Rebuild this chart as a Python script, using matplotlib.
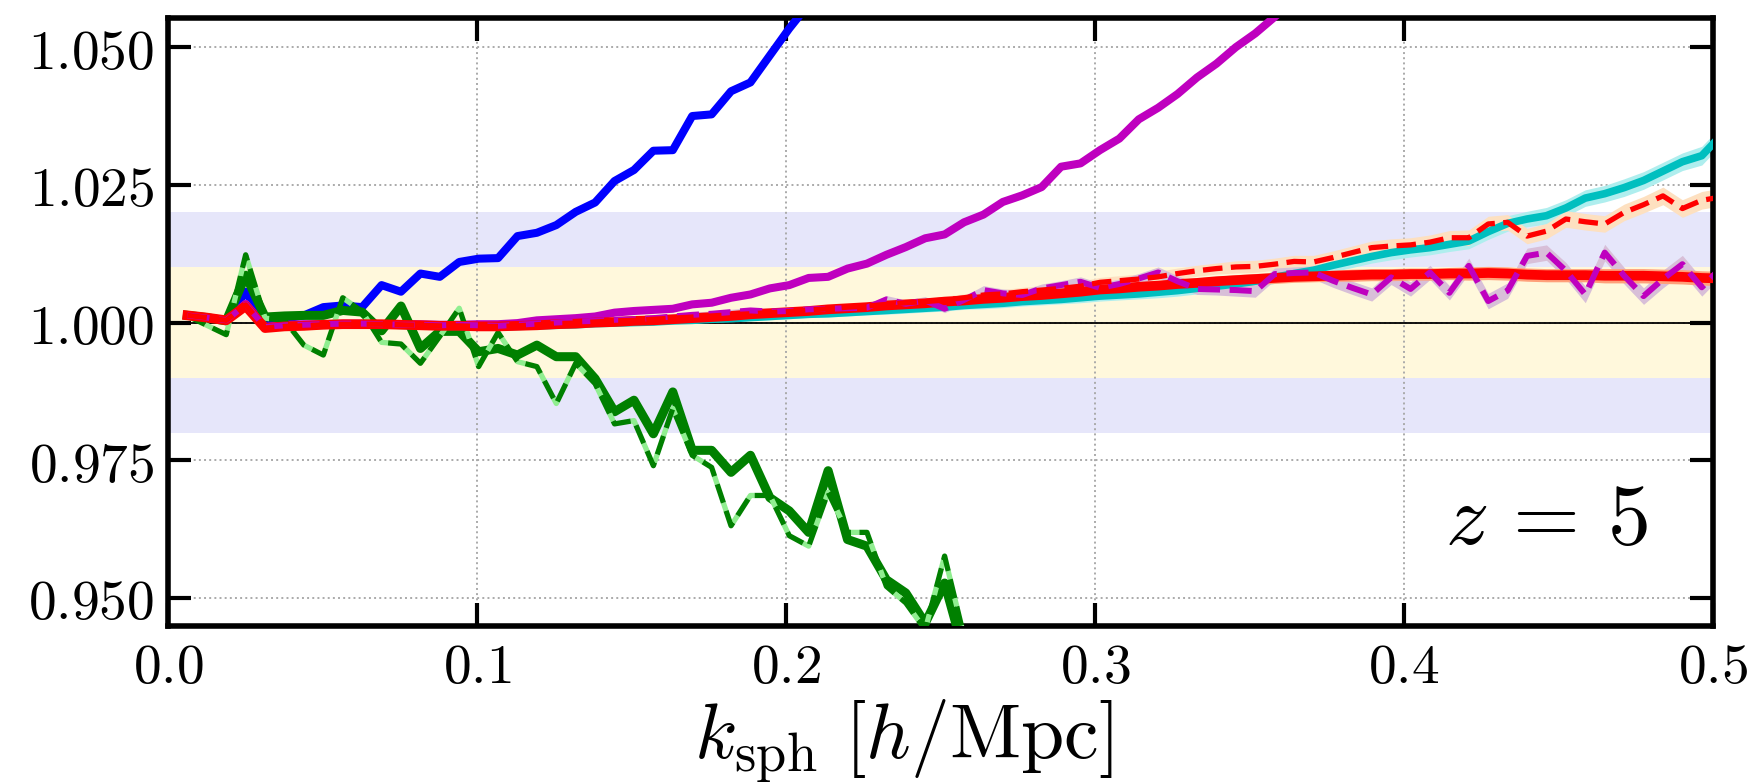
import numpy as np
import matplotlib
matplotlib.use("Agg")
import matplotlib.pyplot as plt
from matplotlib.ticker import FormatStrFormatter

plt.rcParams['mathtext.fontset'] = 'cm'
plt.rcParams['font.family'] = ['DejaVu Serif']

# bin centres k_n = n * 2pi/1000  (h/Mpc)
k = np.arange(1, 81) * 2 * np.pi / 1000.0

blue = [1.0013, 1.0009, 1.0004, 1.0056, 0.9998, 1.0007, 1.0013, 1.0028, 1.0031, 1.0028,
        1.0068, 1.0056, 1.0089, 1.0083, 1.0110, 1.0116, 1.0117, 1.0157, 1.0163, 1.0177,
        1.0201, 1.0218, 1.0257, 1.0277, 1.0312, 1.0313, 1.0375, 1.0378, 1.0420, 1.0436,
        1.0485, 1.0534, 1.0578, 1.0610]

magenta = [1.0013, 1.0009, 1.0004, 1.0034, 0.9992, 0.9996, 0.9997, 0.9997, 0.9998, 0.9998,
           0.9997, 0.9997, 0.9997, 0.9996, 0.9996, 0.9997, 0.9997, 0.9999, 1.0004, 1.0006,
           1.0008, 1.0011, 1.0018, 1.0021, 1.0023, 1.0025, 1.0033, 1.0036, 1.0045, 1.0051,
           1.0062, 1.0068, 1.0081, 1.0083, 1.0098, 1.0107, 1.0123, 1.0137, 1.0153, 1.0160,
           1.0182, 1.0196, 1.0219, 1.0231, 1.0246, 1.0283, 1.0289, 1.0313, 1.0334, 1.0369,
           1.0390, 1.0415, 1.0445, 1.0470, 1.0500, 1.0525, 1.0555, 1.0585]

green = [1.0013, 1.0009, 1.0003, 1.0086, 1.0010, 1.0012, 1.0013, 1.0013, 1.0022, 1.0019,
         0.9985, 1.0030, 0.9953, 0.9984, 0.9984, 0.9947, 0.9953, 0.9941, 0.9959, 0.9938,
         0.9938, 0.9898, 0.9838, 0.9859, 0.9798, 0.9874, 0.9768, 0.9768, 0.9728, 0.9759,
         0.9682, 0.9658, 0.9619, 0.9731, 0.9606, 0.9594, 0.9533, 0.9509, 0.9454, 0.9527,
         0.9400, 0.9340]

green_dash = [1.0012, 0.9995, 0.9978, 1.0123, 1.0008, 1.0004, 0.9959, 0.9941, 1.0045, 1.0020,
              0.9964, 0.9961, 0.9926, 0.9975, 1.0026, 0.9920, 0.9982, 0.9929, 0.9920, 0.9853,
              0.9926, 0.9889, 0.9816, 0.9822, 0.9740, 0.9844, 0.9759, 0.9737, 0.9631, 0.9686,
              0.9686, 0.9613, 0.9594, 0.9692, 0.9619, 0.9619, 0.9521, 0.9491, 0.9442, 0.9576,
              0.9430, 0.9350]

red = [1.0013, 1.0009, 1.0004, 1.0030, 0.9990, 0.9993, 0.9994, 0.9996, 0.9997, 0.9997,
       0.9997, 0.9996, 0.9995, 0.9994, 0.9994, 0.9993, 0.9993, 0.9994, 0.9995, 0.9997,
       0.9998, 1.0000, 1.0001, 1.0003, 1.0004, 1.0006, 1.0008, 1.0010, 1.0012, 1.0015,
       1.0017, 1.0019, 1.0021, 1.0024, 1.0026, 1.0028, 1.0031, 1.0033, 1.0035, 1.0038,
       1.0040, 1.0043, 1.0045, 1.0048, 1.0050, 1.0053, 1.0056, 1.0060, 1.0062, 1.0065,
       1.0067, 1.0070, 1.0072, 1.0075, 1.0077, 1.0079, 1.0081, 1.0083, 1.0084, 1.0085,
       1.0086, 1.0087, 1.0087, 1.0088, 1.0088, 1.0089, 1.0089, 1.0090, 1.0089, 1.0087,
       1.0086, 1.0086, 1.0086, 1.0085, 1.0085, 1.0085, 1.0084, 1.0083, 1.0081, 1.0080]
red_err = [0.0002, 0.0002, 0.0002, 0.0002, 0.0002, 0.0002, 0.0002, 0.0002, 0.0002, 0.0003,
           0.0003, 0.0003, 0.0003, 0.0003, 0.0003, 0.0003, 0.0003, 0.0004, 0.0004, 0.0004,
           0.0004, 0.0004, 0.0004, 0.0004, 0.0005, 0.0005, 0.0005, 0.0005, 0.0005, 0.0005,
           0.0006, 0.0006, 0.0006, 0.0006, 0.0006, 0.0006, 0.0007, 0.0007, 0.0007, 0.0007,
           0.0007, 0.0007, 0.0008, 0.0008, 0.0008, 0.0008, 0.0008, 0.0008, 0.0009, 0.0009,
           0.0009, 0.0009, 0.0009, 0.0009, 0.0010, 0.0010, 0.0010, 0.0010, 0.0010, 0.0010,
           0.0011, 0.0011, 0.0011, 0.0011, 0.0011, 0.0011, 0.0012, 0.0012, 0.0012, 0.0012,
           0.0012, 0.0012, 0.0012, 0.0013, 0.0013, 0.0013, 0.0013, 0.0013, 0.0013, 0.0013]

cyan = [1.0013, 1.0009, 1.0004, 1.0030, 0.9990, 0.9993, 0.9994, 0.9995, 0.9996, 0.9996,
        0.9996, 0.9995, 0.9994, 0.9993, 0.9993, 0.9992, 0.9992, 0.9993, 0.9994, 0.9995,
        0.9996, 0.9998, 0.9999, 1.0000, 1.0001, 1.0003, 1.0004, 1.0006, 1.0007, 1.0009,
        1.0011, 1.0013, 1.0015, 1.0016, 1.0018, 1.0020, 1.0022, 1.0024, 1.0026, 1.0028,
        1.0031, 1.0033, 1.0035, 1.0038, 1.0040, 1.0042, 1.0045, 1.0048, 1.0050, 1.0052,
        1.0055, 1.0058, 1.0062, 1.0066, 1.0070, 1.0075, 1.0082, 1.0089, 1.0095, 1.0104,
        1.0112, 1.0120, 1.0127, 1.0132, 1.0136, 1.0142, 1.0148, 1.0165, 1.0180, 1.0188,
        1.0194, 1.0208, 1.0226, 1.0234, 1.0245, 1.0258, 1.0275, 1.0292, 1.0303, 1.0340]
cyan_err = [0.0002, 0.0002, 0.0002, 0.0002, 0.0002, 0.0002, 0.0002, 0.0002, 0.0002, 0.0003,
            0.0003, 0.0003, 0.0003, 0.0003, 0.0003, 0.0003, 0.0003, 0.0004, 0.0004, 0.0004,
            0.0004, 0.0004, 0.0004, 0.0004, 0.0005, 0.0005, 0.0005, 0.0005, 0.0005, 0.0005,
            0.0006, 0.0006, 0.0006, 0.0006, 0.0006, 0.0006, 0.0007, 0.0007, 0.0007, 0.0007,
            0.0007, 0.0008, 0.0008, 0.0008, 0.0008, 0.0008, 0.0009, 0.0009, 0.0009, 0.0009,
            0.0010, 0.0010, 0.0010, 0.0010, 0.0011, 0.0011, 0.0011, 0.0011, 0.0012, 0.0012,
            0.0012, 0.0012, 0.0013, 0.0013, 0.0013, 0.0013, 0.0014, 0.0014, 0.0014, 0.0014,
            0.0015, 0.0015, 0.0015, 0.0015, 0.0016, 0.0016, 0.0016, 0.0016, 0.0017, 0.0017]

red_dash = [1.0013, 1.0009, 1.0004, 1.0032, 0.9990, 0.9993, 0.9994, 0.9996, 0.9997, 0.9997,
            0.9997, 0.9996, 0.9995, 0.9994, 0.9994, 0.9993, 0.9993, 0.9994, 0.9996, 0.9998,
            0.9999, 1.0001, 1.0003, 1.0004, 1.0006, 1.0008, 1.0010, 1.0012, 1.0014, 1.0016,
            1.0018, 1.0020, 1.0023, 1.0025, 1.0028, 1.0030, 1.0033, 1.0036, 1.0038, 1.0041,
            1.0045, 1.0050, 1.0052, 1.0056, 1.0059, 1.0062, 1.0066, 1.0073, 1.0076, 1.0079,
            1.0083, 1.0089, 1.0094, 1.0098, 1.0101, 1.0102, 1.0106, 1.0111, 1.0110, 1.0118,
            1.0127, 1.0136, 1.0139, 1.0141, 1.0146, 1.0154, 1.0154, 1.0179, 1.0182, 1.0157,
            1.0166, 1.0188, 1.0183, 1.0179, 1.0200, 1.0214, 1.0230, 1.0207, 1.0222, 1.0228]
red_dash_err = [0.0002, 0.0002, 0.0002, 0.0002, 0.0002, 0.0002, 0.0002, 0.0002, 0.0002, 0.0003,
                0.0003, 0.0003, 0.0003, 0.0003, 0.0003, 0.0003, 0.0003, 0.0004, 0.0004, 0.0004,
                0.0004, 0.0004, 0.0004, 0.0004, 0.0005, 0.0005, 0.0005, 0.0005, 0.0005, 0.0005,
                0.0006, 0.0006, 0.0006, 0.0006, 0.0006, 0.0006, 0.0007, 0.0007, 0.0007, 0.0007,
                0.0007, 0.0008, 0.0008, 0.0008, 0.0008, 0.0008, 0.0009, 0.0009, 0.0009, 0.0009,
                0.0010, 0.0010, 0.0010, 0.0010, 0.0011, 0.0011, 0.0011, 0.0011, 0.0012, 0.0012,
                0.0012, 0.0012, 0.0013, 0.0013, 0.0013, 0.0013, 0.0014, 0.0014, 0.0014, 0.0014,
                0.0014, 0.0015, 0.0015, 0.0015, 0.0015, 0.0015, 0.0016, 0.0016, 0.0016, 0.0016]

mag_dash = [1.0013, 1.0009, 1.0004, 1.0033, 0.9992, 0.9995, 0.9996, 0.9997, 0.9998, 0.9998,
            0.9997, 0.9996, 0.9996, 0.9995, 0.9996, 0.9995, 0.9994, 0.9996, 0.9998, 1.0000,
            1.0002, 1.0003, 1.0005, 1.0006, 1.0008, 1.0011, 1.0014, 1.0016, 1.0019, 1.0022,
            1.0020, 1.0021, 1.0024, 1.0025, 1.0026, 1.0027, 1.0042, 1.0034, 1.0040, 1.0025,
            1.0041, 1.0059, 1.0053, 1.0050, 1.0062, 1.0068, 1.0074, 1.0063, 1.0070, 1.0080,
            1.0091, 1.0075, 1.0061, 1.0060, 1.0059, 1.0057, 1.0088, 1.0090, 1.0091, 1.0076,
            1.0063, 1.0051, 1.0082, 1.0061, 1.0091, 1.0054, 1.0103, 1.0039, 1.0058, 1.0121,
            1.0127, 1.0094, 1.0051, 1.0127, 1.0085, 1.0048, 1.0079, 1.0106, 1.0064, 1.0100]
mag_dash_err = red_dash_err

xticks = [0.0, 0.1, 0.2, 0.3, 0.4, 0.5]
yticks = [0.950, 0.975, 1.000, 1.025, 1.050]

fig = plt.figure(figsize=(17.57, 7.84), dpi=100)
ax = fig.add_axes([168/1757, 1-626/784, (1713-168)/1757, (626-18)/784])

ax.axhspan(0.98, 1.02, color='lavender', lw=0, zorder=0.5)
ax.axhspan(0.99, 1.01, color='cornsilk', lw=0, zorder=0.6)
ax.axhline(1.0, color='k', lw=1.3, zorder=1.8)

def band(y, e, color, z):
    y = np.asarray(y); e = np.asarray(e)
    ax.fill_between(k[:len(y)], y - e, y + e, color=color, lw=0, zorder=z)

band(cyan, cyan_err, 'paleturquoise', 2.0)
band(red_dash, red_dash_err, '#fde0c0', 2.1)
band(mag_dash, mag_dash_err, 'thistle', 2.2)
band(red, red_err, 'lightsalmon', 2.3)

ax.plot(k[:len(blue)], blue, color='b', lw=5.8, zorder=3.0)
ax.plot(k[:len(magenta)], magenta, color='m', lw=5.8, zorder=3.0)
ax.plot(k[:len(green)], green, color='g', lw=6.5, zorder=3.1)
ax.plot(k[:len(green_dash)], green_dash, color='g', lw=3.8, ls='--',
        gapcolor='lightgreen', zorder=3.2)
ax.plot(k, cyan, color='c', lw=5.5, zorder=3.3)
ax.plot(k, red, color='r', lw=7.0, zorder=3.4)
ax.plot(k, mag_dash, color='m', lw=4.3, ls='--', zorder=3.5)
ax.plot(k, red_dash, color='r', lw=3.8, ls='--', zorder=3.6)

ax.set_xlim(0.0, 0.5)
ax.set_ylim(0.9449, 1.0553)
ax.set_xticks(xticks)
ax.set_yticks(yticks)
ax.xaxis.set_major_formatter(FormatStrFormatter('$%.1f$'))
ax.yaxis.set_major_formatter(FormatStrFormatter('$%.3f$'))
ax.set_axisbelow('line')
ax.grid(True, ls=':', color='#aaaaaa', lw=1.4)
ax.tick_params(which='major', direction='in', top=True, right=True,
               length=16.5, width=3.0, labelsize=40, pad=10)
for s in ax.spines.values():
    s.set_linewidth(4.0)

ax.set_xlabel(r'$k_{\rm sph}\ [h/{\rm Mpc}]$', fontsize=56)
ax.xaxis.set_label_coords(0.476, -0.118, transform=ax.transAxes)
ax.xaxis.label.set_va('top')
ax.text(0.892, 0.173, r'$z\,=\,5$', transform=ax.transAxes, fontsize=62,
        ha='center', va='center', zorder=5)

fig.savefig('out.png', dpi=100)
